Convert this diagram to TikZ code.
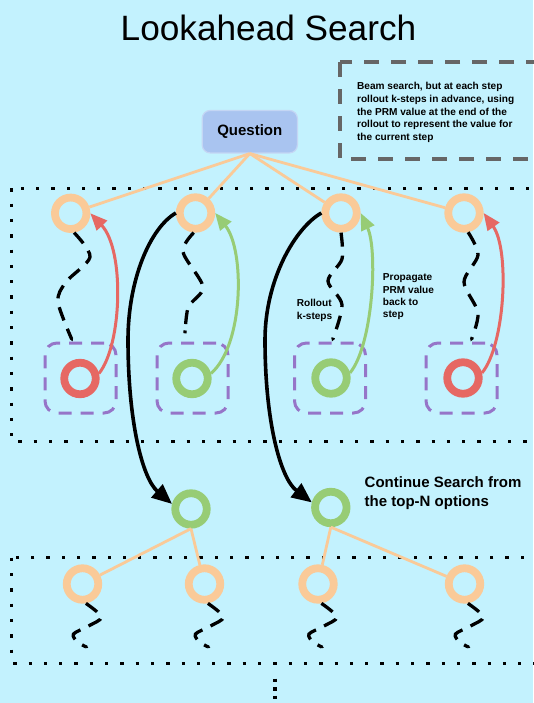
\documentclass[tikz,border=0pt]{standalone}
\usepackage{fontspec}
\setmainfont{Liberation Sans}
\usetikzlibrary{arrows.meta,calc}

\definecolor{bgcyan}{RGB}{195,242,254}
\definecolor{peach}{RGB}{250,202,152}
\definecolor{redring}{RGB}{230,104,99}
\definecolor{greenring}{RGB}{151,204,117}
\definecolor{lavender}{RGB}{150,117,200}
\definecolor{qblue}{RGB}{169,196,240}
\definecolor{qedge}{RGB}{196,214,244}
\definecolor{notegray}{RGB}{102,102,102}

\begin{document}
\begin{tikzpicture}[x=1pt,y=-1pt,
  ring/.style={circle,draw=#1,line width=7.8pt,minimum size=31.5pt,inner sep=0pt},
  slot/.style={rectangle,draw=lavender,line width=3pt,dash pattern=on 13pt off 9pt,
    rounded corners=12pt,minimum width=71pt,minimum height=70pt,inner sep=0pt},
  frame/.style={draw=black,line width=3.3pt,dash pattern=on 3.3pt off 12pt},
  branch/.style={draw=peach,line width=2.8pt},
  rollout/.style={draw=black,line width=3.3pt,dash pattern=on 14pt off 9pt,
    -{Latex[length=3pt,width=3.5pt]}},
  backprop/.style={line width=3pt,-{Triangle[length=17pt,width=14pt]}},
  jump/.style={draw=black,line width=3.6pt,-{Triangle[length=20pt,width=17pt]}},
  smalltext/.style={font=\fontsize{10.1}{12.4}\selectfont\bfseries,align=left,
    anchor=base west,inner sep=0pt}]

% canvas
\useasboundingbox (0,0) rectangle (533,703);
\fill[bgcyan] (0,0) rectangle (533,703);

% title
\node[font=\fontsize{35.2}{42}\selectfont,anchor=base,inner sep=0pt] (title)
  at (268.5,40.8) {Lookahead Search};

% note box (multi-line texts are placed by the baseline of their last line)
\draw[draw=notegray,line width=4pt,dash pattern=on 15pt off 12pt]
  (339.9,62.2) rectangle (560,158.7);
\node[smalltext,font=\fontsize{10.1}{12.6}\selectfont\bfseries] (notetext) at (356.9,140.4)
  {Beam search, but at each step\\rollout k-steps in advance, using\\the PRM value at the end of the\\rollout to represent the value for\\the current step};

% question
\node[fill=qblue,draw=qedge,line width=1.2pt,rounded corners=8pt,minimum width=95.2pt,
  minimum height=42.5pt,inner sep=0pt,font=\fontsize{15}{18}\selectfont\bfseries]
  (q) at (249.8,131.7) {Question};

% dotted frames
\draw[frame] (11.7,188.3) rectangle (560,441.7);
\draw[frame] (11.7,557.7) rectangle (560,663.3);
\draw[line width=3.5pt,dash pattern=on 3.5pt off 5pt] (275,678.5) -- (275,700);

% first level candidates
\node[ring=peach] (t1) at (70.7,213.3) {};
\node[ring=peach] (t2) at (195.5,213) {};
\node[ring=peach] (t3) at (341,213) {};
\node[ring=peach] (t4) at (464,213) {};

% rollout ends
\node[slot] (p1) at (80.5,378) {};
\node[slot] (p2) at (192.5,378) {};
\node[slot] (p3) at (330,378) {};
\node[slot] (p4) at (461.5,378) {};
\node[ring=redring] (b1) at (80,378.5) {};
\node[ring=greenring] (b2) at (192,378.5) {};
\node[ring=greenring] (b3) at (331,378) {};
\node[ring=redring] (b4) at (463,378) {};

% second level
\node[ring=greenring] (g1) at (191,509) {};
\node[ring=greenring] (g2) at (330.8,507.5) {};
\node[ring=peach] (o1) at (82.5,584) {};
\node[ring=peach] (o2) at (204.5,584) {};
\node[ring=peach] (o3) at (318,584) {};
\node[ring=peach] (o4) at (464.5,584) {};

% tree edges
\foreach \t in {t1,t2,t3,t4} \draw[branch] (q.south) -- (\t);
\draw[branch] (g1.south) -- (o1);
\draw[branch] (g1.south) -- (o2);
\draw[branch] (g2.south) -- (o3);
\draw[branch] (g2.south) -- (o4);

% rollouts
\draw[rollout] plot[smooth] coordinates {(t1.-80) (90,257) (66,282) (58,302) (p1.102)};
\draw[rollout,shorten >=8pt] plot[smooth] coordinates {(t2.-95) (183,252) (203,287) (188,308) (p2.102)};
\draw[rollout] plot[smooth] coordinates {(t3.-90) (342,259) (328,281) (342,305) (p3.87)};
\draw[rollout] plot[smooth] coordinates {(t4.-78) (478,255) (464,282) (478,313) (p4.76)};
\foreach \o in {o1,o2,o3,o4}
  \draw[rollout] plot[smooth] coordinates {(\o.-80) ($(\o)+(19,33)$) ($(\o)+(6,42)$)
    ($(\o)+(-9,50)$) ($(\o)+(-5,58)$) ($(\o)+(6,64)$)};

% value propagation
\draw[backprop,color=redring] (b1.15) .. controls (122,345) and (125,250) .. (t1.east);
\draw[backprop,color=greenring] (b2.15) .. controls (244,345) and (245,250) .. (t2.east);
\draw[backprop,color=greenring] (b3.15) .. controls (373,345) and (378,250) .. (t3.east);
\draw[backprop,color=redring] (b4.15) .. controls (505,345) and (510,250) .. (t4.east);

% continue from the best options
\draw[jump] (t2.west) .. controls (150,228) and (128,280) .. (128,340)
  .. controls (128,420) and (142,478) .. (g1.165);
\draw[jump] (t3.west) .. controls (295,228) and (265,280) .. (265,340)
  .. controls (265,420) and (280,478) .. (g2.165);

% labels
\node[smalltext] (rolltext) at (296.7,319.2) {Rollout\\k-steps};
\node[smalltext,font=\fontsize{10.1}{12.3}\selectfont\bfseries] (proptext) at (382.7,317.7)
  {Propagate\\PRM value\\back to\\step};
\node[smalltext,font=\fontsize{15}{18.7}\selectfont\bfseries] (conttext) at (364.5,506.3)
  {Continue Search from\\the top-N options};
\end{tikzpicture}
\end{document}
